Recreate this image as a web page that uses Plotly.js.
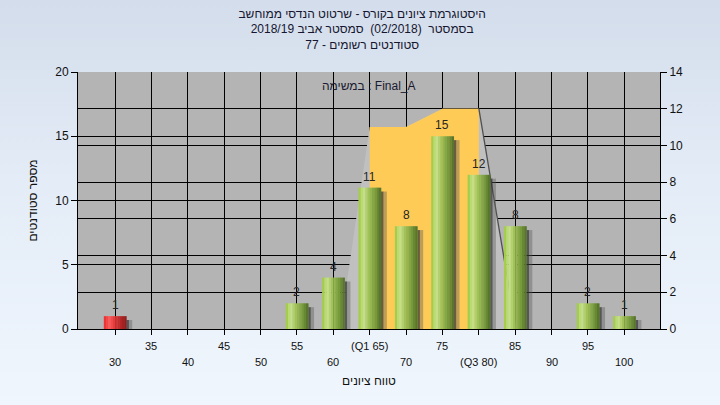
<!DOCTYPE html>
<html>
<head>
<meta charset="utf-8">
<script src="https://cdn.plot.ly/plotly-3.0.1.min.js"></script>
<style>
html, body { margin:0; padding:0; width:720px; height:405px; overflow:hidden;
  background: linear-gradient(to bottom, #D3DDEB 0%, #E4ECF7 45%, #EFF6FD 100%); }
#chart { width:720px; height:405px; }
</style>
</head>
<body>
<div id="chart"></div>
<script>
// ---- data ----
const categories    = [30, 35, 40, 45, 50, 55, 60, 65, 70, 75, 80, 85, 90, 95, 100];
const tickLabels    = ['30', '35', '40', '45', '50', '55', '60', '(Q1 65)', '70', '75', '(Q3 80)', '85', '90', '95', '100'];
const studentCounts = [1, 0, 0, 0, 0, 2, 4, 11, 8, 15, 12, 8, 0, 2, 1];
const iqrX          = [65, 70, 75, 80];
const iqrLevel      = [11, 11, 12, 12];      // right axis
const shadeFootX    = [60.9, 85.1];          // where the shaded sides meet the baseline
const passMark      = 55;
const titleLines    = ['היסטוגרמת ציונים בקורס - שרטוט הנדסי ממוחשב',
                       'בסמסטר  (02/2018)  סמסטר אביב 2018/19',
                       'סטודנטים רשומים - 77'];
const taskLabel     = 'במשימה : Final_A';
const xTitle        = 'טווח ציונים';
const yTitle        = 'מספר סטודנטים';

// ---- styling helpers ----
const greenStops = [[0, '#9AC63A'], [0.22, '#C9E38E'], [0.45, '#A2C259'], [0.75, '#779A3C'], [1, '#526E28']];
const redStops   = [[0, '#E62C2C'], [0.25, '#FF5656'], [0.55, '#D33232'], [1, '#8C1A1A']];
function hexToRgb(h) { return [1, 3, 5].map(i => parseInt(h.slice(i, i + 2), 16)); }
function shade(stops, t) {
  for (let k = 0; k < stops.length - 1; k++) {
    const [p0, c0] = stops[k], [p1, c1] = stops[k + 1];
    if (t <= p1) {
      const u = (t - p0) / (p1 - p0), a = hexToRgb(c0), b = hexToRgb(c1);
      return 'rgb(' + a.map((v, j) => Math.round(v + (b[j] - v) * u)).join(',') + ')';
    }
  }
  return stops[stops.length - 1][1];
}

const BAR_W = 3.1, STRIPS = 10;
const traces = [];

// shaded sides of the inter-quartile band
traces.push({
  type: 'scatter', mode: 'lines', fill: 'toself', yaxis: 'y',
  x: [shadeFootX[0], ...iqrX, shadeFootX[1]],
  y: [0, ...iqrLevel, 0],
  fillcolor: '#C0C0C0', line: { width: 0 }, hoverinfo: 'skip', showlegend: false
});
// inter-quartile band
traces.push({
  type: 'scatter', mode: 'lines', fill: 'toself', yaxis: 'y',
  x: [iqrX[0], ...iqrX, iqrX[iqrX.length - 1]],
  y: [0, ...iqrLevel, 0],
  fillcolor: '#FFCB57', line: { width: 0 }, hoverinfo: 'skip', showlegend: false
});
// right edge line
traces.push({
  type: 'scatter', mode: 'lines', yaxis: 'y',
  x: [iqrX[iqrX.length - 1], shadeFootX[1]],
  y: [iqrLevel[iqrLevel.length - 1], 0],
  line: { color: '#505050', width: 1.3 }, hoverinfo: 'skip', showlegend: false
});

// bar shadows
const shadowY = studentCounts.map(v => Math.max(0, v - 0.3));
traces.push({ type: 'bar', yaxis: 'y2', x: categories, y: shadowY, width: 0.35, offset: BAR_W / 2,
  marker: { color: 'rgba(55,55,55,0.75)', line: { width: 0 } }, hoverinfo: 'skip', showlegend: false });
traces.push({ type: 'bar', yaxis: 'y2', x: categories, y: shadowY, width: 0.45, offset: BAR_W / 2 + 0.35,
  marker: { color: 'rgba(90,90,90,0.4)', line: { width: 0 } }, hoverinfo: 'skip', showlegend: false });

// cylinder bars built from vertical strips
for (let s = 0; s < STRIPS; s++) {
  const t = (s + 0.5) / STRIPS;
  traces.push({
    type: 'bar', yaxis: 'y2', x: categories, y: studentCounts,
    width: BAR_W / STRIPS + 0.04, offset: -BAR_W / 2 + s * BAR_W / STRIPS,
    marker: { color: categories.map(c => c < passMark ? shade(redStops, t) : shade(greenStops, t)), line: { width: 0 } },
    hoverinfo: 'skip', showlegend: false, name: s === 0 ? 'students' : ''
  });
}

const annotations = [];
// staggered x tick labels
categories.forEach((c, i) => {
  annotations.push({ x: c, xref: 'x', y: 0, yref: 'paper', yanchor: 'middle', xanchor: 'center',
    yshift: i % 2 ? -17 : -33, text: tickLabels[i], showarrow: false,
    font: { family: 'Liberation Sans, Arial, sans-serif', size: 11, color: '#111' } });
});
// value labels
categories.forEach((c, i) => {
  if (studentCounts[i] > 0) {
    annotations.push({ x: c, xref: 'x', y: studentCounts[i], yref: 'y2', yanchor: 'bottom', yshift: 2,
      text: String(studentCounts[i]), showarrow: false,
      font: { family: 'Liberation Sans, Arial, sans-serif', size: 12, color: '#262626' } });
  }
});
annotations.push({ x: 0.5, xref: 'paper', y: 0.947, yref: 'paper', yanchor: 'middle', text: taskLabel,
  showarrow: false, font: { family: 'Liberation Sans, Arial, sans-serif', size: 12, color: '#1a1a30' } });

const axisFont = { family: 'Liberation Sans, Arial, sans-serif', size: 12, color: '#111' };

const layout = {
  width: 720, height: 405,
  margin: { l: 78, r: 60, t: 72, b: 76 },
  paper_bgcolor: 'rgba(0,0,0,0)',
  plot_bgcolor: '#B4B4B4',
  barmode: 'overlay',
  hovermode: false,
  showlegend: false,
  title: {
    text: titleLines.join('<br>'),
    x: 0.503, xanchor: 'center', y: 0.956, yref: 'container', yanchor: 'top',
    font: { family: 'Liberation Sans, Arial, sans-serif', size: 12, color: '#161630' }
  },
  xaxis: {
    range: [24.9, 104.9], tickmode: 'array', tickvals: categories, showticklabels: false,
    ticks: 'outside', ticklen: 5, tickcolor: '#000',
    showgrid: true, gridcolor: '#000', gridwidth: 1, zeroline: false,
    showline: true, linecolor: '#000', linewidth: 1,
    title: { text: xTitle, standoff: 42, font: { family: 'Liberation Sans, Arial, sans-serif', size: 12, color: '#111' } }
  },
  yaxis: {
    side: 'right', range: [0, 14], tickmode: 'linear', tick0: 0, dtick: 2,
    ticks: 'outside', ticklen: 6, tickcolor: '#000', tickfont: axisFont,
    showgrid: true, gridcolor: '#000', gridwidth: 1, zeroline: false,
    showline: true, linecolor: '#000', linewidth: 1
  },
  yaxis2: {
    overlaying: 'y', side: 'left', range: [0, 20], tickmode: 'linear', tick0: 0, dtick: 5,
    ticks: 'outside', ticklen: 6, tickcolor: '#000', tickfont: axisFont,
    showgrid: true, gridcolor: '#000', gridwidth: 1, zeroline: false,
    showline: true, linecolor: '#000', linewidth: 1,
    title: { text: yTitle, standoff: 15, font: { family: 'Liberation Sans, Arial, sans-serif', size: 12, color: '#111' } }
  },
  annotations: annotations
};

Plotly.newPlot('chart', traces, layout, { staticPlot: true, displayModeBar: false });
</script>
</body>
</html>
